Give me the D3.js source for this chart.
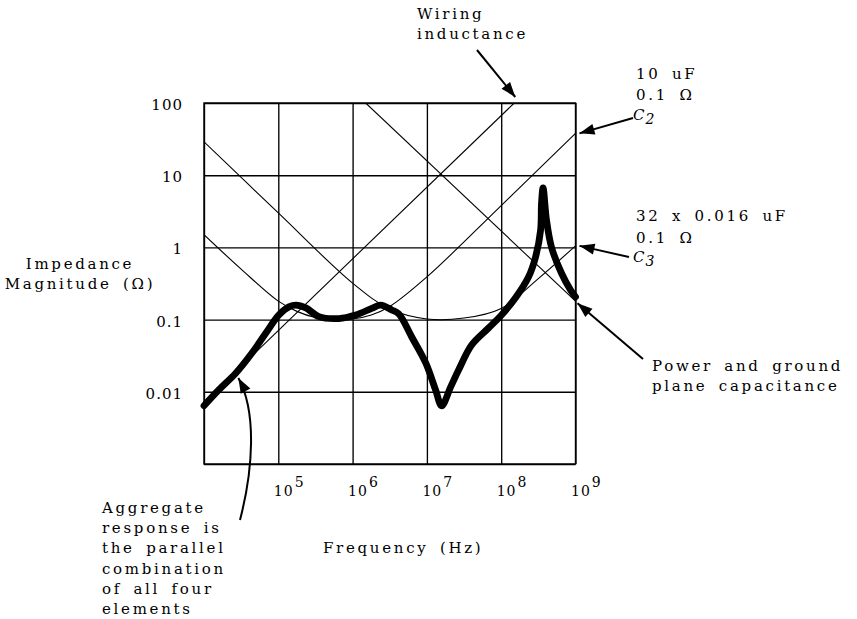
<!DOCTYPE html>
<html>
<head>
<meta charset="utf-8">
<script src="https://cdn.jsdelivr.net/npm/d3@7"></script>
<style>
  body { margin: 0; background: #fff; }
  svg text { font-family: "DejaVu Serif", serif; font-size: 15px; fill: #000;
             letter-spacing: 2.7px; word-spacing: 4px; }
</style>
</head>
<body>
<script>
var width = 857, height = 619;

// decade grid, in Hz and ohms
var gridF = [1e4, 1e5, 1e6, 1e7, 1e8, 1e9];
var gridZ = [1e-3, 1e-2, 1e-1, 1, 10, 100];
var freqTicks = [1e5, 1e6, 1e7, 1e8, 1e9];
var freqExp = ["5", "6", "7", "8", "9"];
var zTicks = [100, 10, 1, 0.1, 0.01];
var zTickLabels = ["100", "10", "1", "0.1", "0.01"];

// thin component curves
var wiringF = [1e4, 1.5e8];
var wiringZ = [0.0072, 100];

var c2F = [1e4, 3.16e4, 1e5, 1.78e5, 3.16e5, 6.5e5, 1e6, 1.78e6, 3.16e6, 1e7, 1e8, 1e9];
var c2Z = [1.5, 0.5, 0.18, 0.13, 0.107, 0.1, 0.102, 0.116, 0.152, 0.39, 3.8, 38];

var c3F = [1e4, 1e5, 1e6, 3.16e6, 1e7, 3.16e7, 1e8, 3.16e8, 1e9];
var c3Z = [29, 3.0, 0.32, 0.14, 0.102, 0.105, 0.143, 0.37, 1.05];

var planeF = [1.5e6, 1e9];
var planeZ = [100, 0.18];

// aggregate response (thick curve)
var aggF = [1.00e4, 1.58e4, 2.69e4, 4.42e4, 6.81e4, 1.02e5, 1.39e5, 1.73e5, 2.35e5, 3.52e5,
            6.53e5, 1.10e6, 1.81e6, 2.39e6, 3.37e6, 4.18e6, 6.25e6, 9.64e6, 1.31e7, 1.58e7,
            2.09e7, 2.67e7, 4.00e7, 6.76e7, 1.01e8, 1.55e8, 2.33e8, 2.90e8, 3.39e8, 3.49e8,
            3.66e8, 4.07e8, 4.75e8, 6.46e8, 8.57e8, 1.00e9];
var aggZ = [0.0064, 0.0106, 0.0182, 0.0344, 0.0652, 0.116, 0.150, 0.159, 0.145, 0.110,
            0.1035, 0.116, 0.143, 0.159, 0.136, 0.120, 0.0574, 0.0251, 0.0106, 0.0064,
            0.0117, 0.020, 0.0445, 0.0765, 0.116, 0.199, 0.389, 0.736, 1.74, 4.12,
            6.65, 2.40, 1.01, 0.442, 0.257, 0.206];

var svg = d3.select("body")
            .append("svg")
            .attr("width", width)
            .attr("height", height)
            .style("background", "#fff");

var x = d3.scaleLog().domain([1e4, 1e9]).range([204, 575.5]);
var y = d3.scaleLog().domain([1e-3, 1e2]).range([464, 103]);
var plotH = y(1e-3) - y(1e2);
var plotW = x(1e9) - x(1e4);

// Grid lines
svg.append("g")
   .attr("transform", "translate(0," + y(1e-3) + ")")
   .call(d3.axisBottom(x).tickValues(gridF).tickSize(-plotH).tickFormat(""))
   .call(g => g.select(".domain").remove());

svg.append("g")
   .attr("transform", "translate(" + x(1e4) + ",0)")
   .call(d3.axisLeft(y).tickValues(gridZ).tickSize(-plotW).tickFormat(""))
   .call(g => g.select(".domain").remove());

svg.selectAll(".tick line")
   .attr("stroke", "#000")
   .attr("stroke-width", 1.35);

// Y tick labels
svg.selectAll(".ylab")
   .data(zTicks)
   .enter()
   .append("text")
   .attr("class", "ylab")
   .attr("x", 183)
   .attr("y", d => y(d) + 7)
   .attr("text-anchor", "end")
   .style("letter-spacing", "1px")
   .text((d, i) => zTickLabels[i]);

// X tick labels, 10 with superscript
var xl = svg.selectAll(".xlab")
            .data(freqTicks)
            .enter()
            .append("text")
            .attr("class", "xlab")
            .attr("x", d => x(d) - 4.5)
            .attr("y", 496)
            .style("font-size", "14px")
            .style("letter-spacing", "1px");
xl.append("tspan").text("10");
xl.append("tspan").attr("dy", -9).attr("dx", 1).text((d, i) => freqExp[i]);

// Clip for curves
svg.append("clipPath").attr("id", "plot")
   .append("rect")
   .attr("x", x(1e4)).attr("y", y(1e2))
   .attr("width", plotW).attr("height", plotH);

var line = d3.line()
             .x(d => x(d[0]))
             .y(d => y(d[1]))
             .curve(d3.curveCatmullRom.alpha(0.5));

var thin = [[wiringF, wiringZ], [c2F, c2Z], [c3F, c3Z], [planeF, planeZ]];
svg.append("g")
   .attr("clip-path", "url(#plot)")
   .selectAll("path")
   .data(thin)
   .enter()
   .append("path")
   .attr("fill", "none")
   .attr("stroke", "#000")
   .attr("stroke-width", 1.1)
   .attr("d", d => line(d[0].map((f, i) => [f, d[1][i]])));

svg.append("path")
   .attr("fill", "none")
   .attr("stroke", "#000")
   .attr("stroke-width", 6.8)
   .attr("stroke-linecap", "round")
   .attr("stroke-linejoin", "round")
   .attr("d", line(aggF.map((f, i) => [f, aggZ[i]])));

// Frame
svg.append("rect")
   .attr("x", x(1e4)).attr("y", y(1e2))
   .attr("width", plotW).attr("height", plotH)
   .attr("fill", "none")
   .attr("stroke", "#000")
   .attr("stroke-width", 1.4);

// Text blocks
function addLines(xp, y0, lh, lines, anchor) {
  lines.forEach((s, i) => {
    svg.append("text")
       .attr("x", xp)
       .attr("y", y0 + i * lh)
       .attr("text-anchor", anchor || "start")
       .text(s);
  });
}

addLines(80, 269, 20, ["Impedance", "Magnitude (\u03a9)"], "middle");
addLines(323, 553, 20, ["Frequency (Hz)"]);
addLines(417, 19, 20, ["Wiring", "inductance"]);
addLines(636, 79, 21, ["10 uF", "0.1  \u03a9"]);
addLines(636, 221, 22, ["32 x 0.016 uF", "0.1  \u03a9"]);
addLines(652, 371, 20, ["Power and ground", "plane capacitance"]);
addLines(102, 513, 20.2, ["Aggregate", "response is", "the parallel", "combination", "of all four", "elements"]);

function capLabel(xp, yp, sub) {
  var t = svg.append("text").attr("x", xp).attr("y", yp)
             .style("font-style", "italic").style("letter-spacing", "0px");
  t.append("tspan").text("C");
  t.append("tspan").attr("dy", 4).attr("dx", 1).style("font-size", "14px").text(sub);
}
capLabel(633, 120, "2");
capLabel(633, 262, "3");

// Arrows
function arrowHead(tip, from) {
  var dx = tip[0] - from[0], dy = tip[1] - from[1];
  var len = Math.sqrt(dx * dx + dy * dy);
  var ux = dx / len, uy = dy / len;
  var hl = 15, hw = 5.5;
  var bx = tip[0] - ux * hl, by = tip[1] - uy * hl;
  svg.append("path")
     .attr("fill", "#000")
     .attr("d", "M" + tip + "L" + [bx - uy * hw, by + ux * hw] + "L" + [bx + uy * hw, by - ux * hw] + "Z");
}

var arrows = [
  {tail: [477, 50], tip: [x(1.5e8) + 1, y(100) - 6]},
  {tail: [633, 118], tip: [x(1e9) + 4, y(38)]},
  {tail: [629, 257], tip: [x(1e9) + 4, y(1.05)]},
  {tail: [643, 359], tip: [x(1e9) + 2, y(0.18) + 2]}
];
arrows.forEach(a => {
  svg.append("line")
     .attr("x1", a.tail[0]).attr("y1", a.tail[1])
     .attr("x2", a.tip[0]).attr("y2", a.tip[1])
     .attr("stroke", "#000")
     .attr("stroke-width", 2);
  arrowHead(a.tip, a.tail);
});

// Curved arrow for the aggregate response
var aggTip = [x(2.9e4), y(0.0155)];
var c1 = [253, 470], c2 = [257, 412];
svg.append("path")
   .attr("fill", "none")
   .attr("stroke", "#000")
   .attr("stroke-width", 2)
   .attr("d", "M240,520C" + c1 + " " + c2 + " " + aggTip);
arrowHead(aggTip, c2);
</script>
</body>
</html>
